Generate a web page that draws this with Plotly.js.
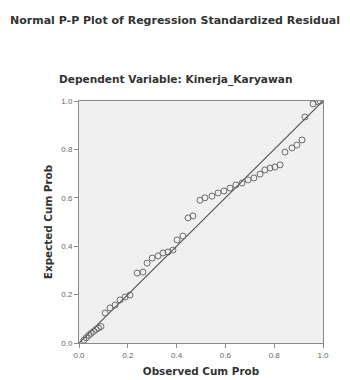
<!DOCTYPE html>
<html>
<head>
<meta charset="utf-8">
<script src="https://cdn.plot.ly/plotly-3.0.1.min.js"></script>
<style>html,body{margin:0;padding:0;background:#fff;}#chart{width:350px;height:380px;}</style>
</head>
<body>
<div id="chart"></div>
<script>
// Observed cumulative probability (x) and expected cumulative probability (y)
const observedCumProb = [0.02,0.03,0.04,0.05,0.06,0.07,0.08,0.09,
  0.107,0.127,0.148,0.168,0.189,0.209,
  0.238,0.262,0.279,0.300,0.324,0.344,0.365,0.385,
  0.402,0.426,0.447,0.467,
  0.496,0.516,0.545,0.570,0.594,0.619,0.643,0.668,0.693,0.717,0.742,
  0.762,0.783,0.803,0.824,0.844,0.873,0.893,0.914,
  0.926,0.959,0.980,0.988];
const expectedCumProb = [0.012,0.022,0.032,0.040,0.048,0.056,0.062,0.068,
  0.124,0.145,0.157,0.178,0.190,0.198,
  0.289,0.293,0.330,0.351,0.360,0.372,0.376,0.384,
  0.426,0.442,0.517,0.525,
  0.590,0.600,0.607,0.620,0.628,0.640,0.653,0.661,0.674,0.682,0.698,
  0.715,0.723,0.727,0.736,0.789,0.806,0.818,0.839,
  0.934,0.988,0.996,1.000];
const refLine = [0, 1];
const tickVals = [0, 0.2, 0.4, 0.6, 0.8, 1.0];
const tickText = ["0.0", "0.2", "0.4", "0.6", "0.8", "1.0"];
const chartTitle = "Normal P-P Plot of Regression Standardized Residual";
const subTitle = "Dependent Variable: Kinerja_Karyawan";
const xTitle = "Observed Cum Prob";
const yTitle = "Expected Cum Prob";

const FONT = "Liberation Sans, Arial, sans-serif";
const TFONT = "DejaVu Sans, Verdana, sans-serif";

const traces = [
  {x: refLine, y: refLine, mode: "lines", type: "scatter",
   line: {color: "#555555", width: 1.2}, hoverinfo: "skip"},
  {x: observedCumProb, y: expectedCumProb, mode: "markers", type: "scatter",
   marker: {symbol: "circle-open", size: 6, color: "#6a6a6a", line: {width: 1}}}
];

const axisCommon = {
  range: [0, 1], tickvals: tickVals, ticktext: tickText,
  showgrid: false, zeroline: false, showline: true, mirror: true,
  linecolor: "#8a8a8a", linewidth: 1,
  ticks: "outside", ticklen: 4, tickcolor: "#8a8a8a",
  tickfont: {family: FONT, size: 8, color: "#666666"}
};

const layout = {
  width: 350, height: 380,
  margin: {l: 79, r: 27, t: 101, b: 37},
  paper_bgcolor: "#ffffff", plot_bgcolor: "#f0f0f0",
  showlegend: false,
  title: {text: "<b>" + chartTitle + "</b>", x: 0.5, xref: "container",
          y: 1 - 20/380, yref: "container", yanchor: "middle",
          font: {family: TFONT, size: 11, color: "#333333"}},
  xaxis: Object.assign({}, axisCommon, {
    title: {text: "<b>" + xTitle + "</b>", standoff: 9,
            font: {family: TFONT, size: 10.4, color: "#333333"}}
  }),
  yaxis: Object.assign({}, axisCommon, {
    title: {text: "<b>" + yTitle + "</b>", standoff: 6,
            font: {family: TFONT, size: 10.4, color: "#333333"}}
  }),
  annotations: [{
    text: "<b>" + subTitle + "</b>", xref: "paper", yref: "paper",
    x: (175 - 79) / 244, y: (343 - 80) / 242, xanchor: "center", yanchor: "middle",
    showarrow: false, font: {family: TFONT, size: 10.6, color: "#333333"}
  }]
};

Plotly.newPlot("chart", traces, layout, {displayModeBar: false, staticPlot: true});
</script>
</body>
</html>
